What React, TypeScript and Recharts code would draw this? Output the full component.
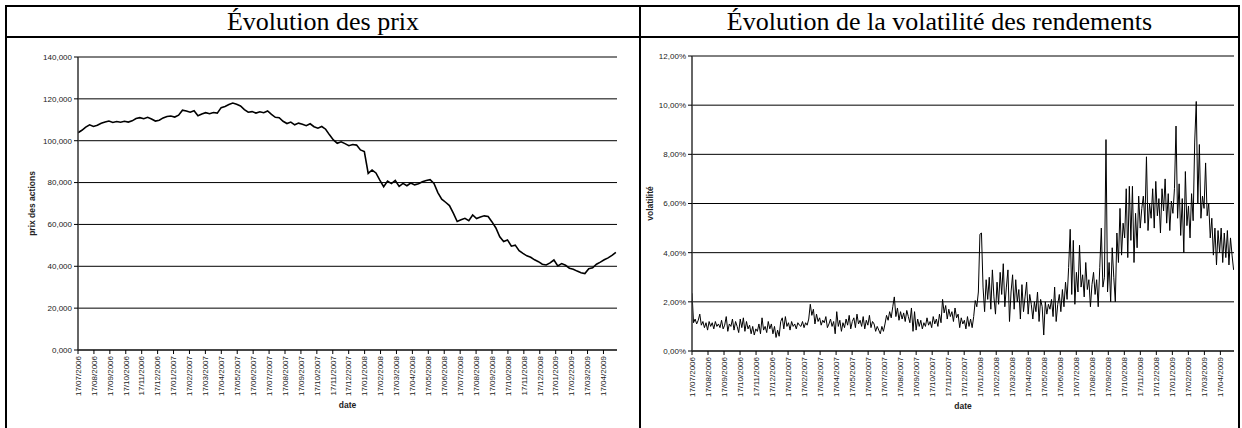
import { LineChart, Line, XAxis, YAxis, CartesianGrid } from 'recharts';

// month ticks, one per month from 17/07/2006
const dateLabels = [
  '17/07/2006', '17/08/2006', '17/09/2006', '17/10/2006', '17/11/2006', '17/12/2006',
  '17/01/2007', '17/02/2007', '17/03/2007', '17/04/2007', '17/05/2007', '17/06/2007',
  '17/07/2007', '17/08/2007', '17/09/2007', '17/10/2007', '17/11/2007', '17/12/2007',
  '17/01/2008', '17/02/2008', '17/03/2008', '17/04/2008', '17/05/2008', '17/06/2008',
  '17/07/2008', '17/08/2008', '17/09/2008', '17/10/2008', '17/11/2008', '17/12/2008',
  '17/01/2009', '17/02/2009', '17/03/2009', '17/04/2009',
];
const LAST_MONTH = 33.85;

// share price, about one sample a week
const PRICE_STEP = 0.243;
const priceValues = [
  103.8, 105.0, 106.5, 107.6, 106.8, 107.4, 108.3, 108.9, 109.4, 108.7, 109.2, 108.8,
  109.3, 108.9, 109.5, 110.6, 111.0, 110.5, 111.2, 110.4, 109.4, 109.8, 110.9, 111.6,
  111.8, 111.3, 112.2, 114.6, 114.2, 113.6, 114.3, 111.9, 112.8, 113.4, 112.9, 113.5,
  113.2, 115.8, 116.4, 117.3, 118.0, 117.4, 116.6, 114.9, 113.6, 113.9, 113.2, 113.8,
  113.4, 114.2, 112.6, 111.2, 111.0, 109.3, 108.2, 108.9, 107.6, 108.4, 107.9, 107.2,
  108.1, 106.7, 106.0, 106.8, 105.5, 102.8, 100.4, 98.8, 99.5, 98.6, 97.6, 98.2,
  97.9, 95.6, 94.8, 84.4, 86.0, 84.6, 81.2, 78.0, 80.7, 79.5, 81.0, 78.2,
  79.6, 78.5, 79.8, 78.9, 79.4, 80.4, 81.0, 81.4, 79.6, 75.2, 72.1, 70.6,
  69.0, 65.4, 61.4, 62.2, 62.9, 61.8, 64.5, 62.8, 63.6, 64.1, 63.8, 61.2,
  58.3, 54.1, 51.8, 52.6, 49.6, 50.1, 47.5, 46.2, 45.0, 44.3, 43.1, 42.2,
  41.0, 40.6, 41.6, 43.0, 40.2, 41.3, 40.5, 39.1, 38.6, 37.7, 36.9, 36.5,
  38.8, 39.3, 41.0, 42.0, 43.1, 44.0, 45.2, 46.6,
];

// volatility of returns in %, about one sample every two trading days
const VOL_STEP = 0.0972;
const volValues = [
  2.35, 1.15, 1.3, 1.1, 1.25, 1.5, 1.05, 1.2, 0.95, 1.15,
  0.85, 1.2, 1.0, 1.15, 0.9, 1.2, 1.0, 1.1, 0.95, 1.25,
  0.9, 1.05, 1.4, 0.8, 1.1, 1.0, 1.3, 0.85, 1.2, 1.0,
  0.75, 1.3, 0.95, 1.35, 0.8, 1.2, 0.9, 1.05, 0.7, 1.0,
  0.65, 0.9, 0.8, 1.1, 0.7, 1.35, 0.85, 1.0, 0.75, 1.2,
  0.9, 1.1, 0.7, 1.0, 0.55, 0.85, 0.6, 1.2, 1.35, 0.9,
  1.4, 1.0, 1.15, 0.85, 1.2, 1.0, 1.1, 0.9, 1.15, 1.05,
  1.0, 1.2, 0.95, 1.15, 1.05, 1.3, 1.9, 1.45, 1.7, 1.1,
  1.5, 1.2, 1.35, 1.05, 1.25, 1.15, 1.4, 0.95, 1.1, 1.3,
  1.0, 1.2, 0.7, 1.6, 1.0, 1.25, 0.8, 1.15, 0.95, 1.3,
  1.05, 1.45, 0.9, 1.2, 1.35, 0.95, 1.5, 1.1, 1.25, 1.0,
  1.4, 0.9, 1.25, 1.05, 1.45, 0.95, 1.2, 1.1, 0.8, 1.0,
  0.85, 0.7, 1.0, 0.8, 1.1, 1.45, 1.25, 1.6, 1.35, 1.8,
  2.2, 1.4, 1.75, 1.25, 1.6, 1.3, 1.55, 1.2, 1.65, 1.4,
  1.15, 1.75, 0.8, 1.6, 0.85, 1.3, 1.0, 1.25, 0.9, 1.15,
  1.0, 1.35, 1.05, 1.2, 0.95, 1.4, 1.1, 1.3, 1.0, 1.5,
  1.15, 2.1, 1.55, 1.85, 1.3, 1.7, 1.4, 1.6, 1.2, 1.75,
  1.35, 1.5, 0.95, 1.35, 1.1, 1.25, 0.9, 1.4, 1.0, 1.3,
  0.95, 1.4, 2.05, 1.8, 2.4, 4.75, 4.8, 2.6, 1.6, 2.9,
  2.1, 3.0, 1.7, 3.3, 2.2, 1.5, 2.8, 1.9, 3.2, 2.3,
  3.55, 1.8, 2.6, 3.3, 1.2, 2.4, 3.1, 1.7, 2.9, 2.0,
  2.5, 1.3, 2.7, 1.6, 2.2, 2.8, 1.5, 2.3, 1.9, 1.3,
  2.0, 1.6, 2.4, 1.2, 2.1, 1.8, 0.65, 2.0, 1.5, 1.9,
  1.7, 2.1, 1.4, 2.6, 1.2, 1.9, 2.3, 1.6, 2.5, 1.8,
  2.8, 2.1, 3.4, 4.95, 2.3, 4.5, 1.9, 3.2, 2.4, 4.3,
  2.6, 3.1, 2.2, 3.6, 2.5, 2.9, 1.8, 2.7, 3.2, 2.3,
  2.9, 1.8, 3.4, 5.0, 2.6, 3.0, 8.6, 2.4, 3.6, 2.0,
  4.2, 3.0, 2.0, 4.8, 3.6, 5.8, 3.9, 5.2, 4.6, 6.6,
  3.8, 6.7, 4.5, 6.7, 3.6, 5.6, 4.2, 6.3, 5.0, 5.8,
  6.3, 5.2, 7.9, 4.9, 6.0, 5.4, 6.6, 5.0, 6.9, 5.5,
  6.2, 4.8, 6.6, 5.7, 7.0, 5.2, 6.4, 4.9, 6.1, 5.6,
  6.6, 9.15, 5.4, 6.8, 4.7, 6.2, 4.0, 7.3, 5.1, 5.9,
  4.6, 6.4, 5.3, 8.5, 10.15, 6.0, 8.4, 5.4, 6.3, 5.8,
  7.65, 5.5, 6.0, 4.6, 5.4, 3.9, 5.0, 3.5, 4.9, 4.0,
  5.0, 3.6, 4.8, 3.8, 4.9, 3.5, 4.6, 3.9, 3.3,
];

const priceTicks = [0, 20, 40, 60, 80, 100, 120, 140];
const volTicks = [0, 2, 4, 6, 8, 10, 12];

const priceData = priceValues.map((v, i) => ({ m: i * PRICE_STEP, v }));
const volData = volValues.map((v, i) => ({ m: i * VOL_STEP, v }));
const monthTicks = dateLabels.map((_, i) => i);

const SANS = '"Liberation Sans", Arial, sans-serif';
const SERIF = '"Liberation Serif", "Times New Roman", serif';

const DateTick = (props: any) => {
  const { x, y, payload } = props;
  return (
    <text
      x={x}
      y={y}
      transform={`rotate(-90, ${x}, ${y})`}
      textAnchor="end"
      dy="0.35em"
      fontSize={8}
      fill="#222"
      fontFamily={SANS}
    >
      {dateLabels[payload.value]}
    </text>
  );
};

const yTitle = (text: string, dx: number) => (props: any) => {
  const { viewBox } = props;
  const cx = viewBox.x + dx;
  const cy = viewBox.y + viewBox.height / 2;
  return (
    <text
      x={cx}
      y={cy}
      transform={`rotate(-90, ${cx}, ${cy})`}
      textAnchor="middle"
      dy="0.35em"
      fontSize={8.5}
      fontWeight="bold"
      fill="#222"
      fontFamily={SANS}
    >
      {text}
    </text>
  );
};

const xTitle = (props: any) => {
  const { viewBox } = props;
  return (
    <text
      x={viewBox.x + viewBox.width / 2}
      y={viewBox.y + 55}
      textAnchor="middle"
      dy="0.35em"
      fontSize={8.5}
      fontWeight="bold"
      fill="#222"
      fontFamily={SANS}
    >
      date
    </text>
  );
};

interface PanelProps {
  data: { m: number; v: number }[];
  width: number;
  margin: { top: number; right: number; bottom: number; left: number };
  yWidth: number;
  yMax: number;
  yTicks: number[];
  yFormat: (v: number) => string;
  yLabel: string;
  yLabelDx: number;
  strokeWidth: number;
}

const Panel = ({ data, width, margin, yWidth, yMax, yTicks, yFormat, yLabel, yLabelDx, strokeWidth }: PanelProps) => (
  <LineChart width={width} height={388} data={data} margin={margin}>
    <CartesianGrid vertical={false} stroke="#000" strokeWidth={1} />
    <XAxis
      dataKey="m"
      type="number"
      domain={[0, LAST_MONTH]}
      ticks={monthTicks}
      interval={0}
      allowDataOverflow
      height={60}
      tickSize={4}
      tickMargin={2}
      tick={DateTick}
      tickLine={{ stroke: '#000' }}
      axisLine={{ stroke: '#333', strokeWidth: 1.5 }}
      label={xTitle}
    />
    <XAxis
      xAxisId="frame"
      orientation="top"
      type="number"
      domain={[0, LAST_MONTH]}
      height={0}
      tick={false}
      tickLine={false}
      axisLine={{ stroke: '#808080', strokeWidth: 2 }}
    />
    <YAxis
      type="number"
      domain={[0, yMax]}
      ticks={yTicks}
      interval={0}
      width={yWidth}
      tickSize={4}
      tickMargin={2}
      tickFormatter={yFormat}
      tick={{ fontSize: 8, fill: '#222', fontFamily: SANS }}
      tickLine={{ stroke: '#000' }}
      axisLine={{ stroke: '#333', strokeWidth: 1.5 }}
      label={yTitle(yLabel, yLabelDx)}
    />
    <YAxis
      yAxisId="frame"
      orientation="right"
      type="number"
      domain={[0, yMax]}
      width={0}
      tick={false}
      tickLine={false}
      axisLine={{ stroke: '#808080', strokeWidth: 2 }}
    />
    <Line
      type="linear"
      dataKey="v"
      stroke="#000"
      strokeWidth={strokeWidth}
      dot={false}
      isAnimationActive={false}
    />
  </LineChart>
);

const bar = (left: number, top: number, width: number, height: number) => (
  <div style={{ position: 'absolute', left, top, width, height, background: '#000' }} />
);

const titleStyle = (left: number, width: number): React.CSSProperties => ({
  position: 'absolute',
  left,
  top: 7,
  width,
  height: 29,
  display: 'flex',
  alignItems: 'center',
  justifyContent: 'center',
  fontFamily: SERIF,
  fontSize: 26,
  color: '#000',
});

export default function App() {
  return (
    <div style={{ position: 'absolute', left: 0, top: 0, width: 1242, height: 428, background: '#fff', overflow: 'hidden' }}>
      {bar(5, 5, 1235, 2)}
      {bar(5, 36, 1235, 2)}
      {bar(5, 5, 2, 423)}
      {bar(639, 5, 2, 423)}
      {bar(1238, 5, 2, 423)}

      <div style={titleStyle(7, 632)}>Évolution des prix</div>
      <div style={titleStyle(641, 597)}>Évolution de la volatilité des rendements</div>

      <div style={{ position: 'absolute', left: 8, top: 40 }}>
        <Panel
          data={priceData}
          width={630}
          margin={{ top: 17, right: 21, bottom: 18, left: 0 }}
          yWidth={70}
          yMax={140}
          yTicks={priceTicks}
          yFormat={(v) => v.toFixed(3).replace('.', ',')}
          yLabel="prix des actions"
          yLabelDx={24}
          strokeWidth={1.6}
        />
      </div>

      <div style={{ position: 'absolute', left: 642, top: 40 }}>
        <Panel
          data={volData}
          width={596}
          margin={{ top: 16, right: 4, bottom: 17, left: 0 }}
          yWidth={50}
          yMax={12}
          yTicks={volTicks}
          yFormat={(v) => v.toFixed(2).replace('.', ',') + '%'}
          yLabel="volatilité"
          yLabelDx={8}
          strokeWidth={1}
        />
      </div>
    </div>
  );
}
